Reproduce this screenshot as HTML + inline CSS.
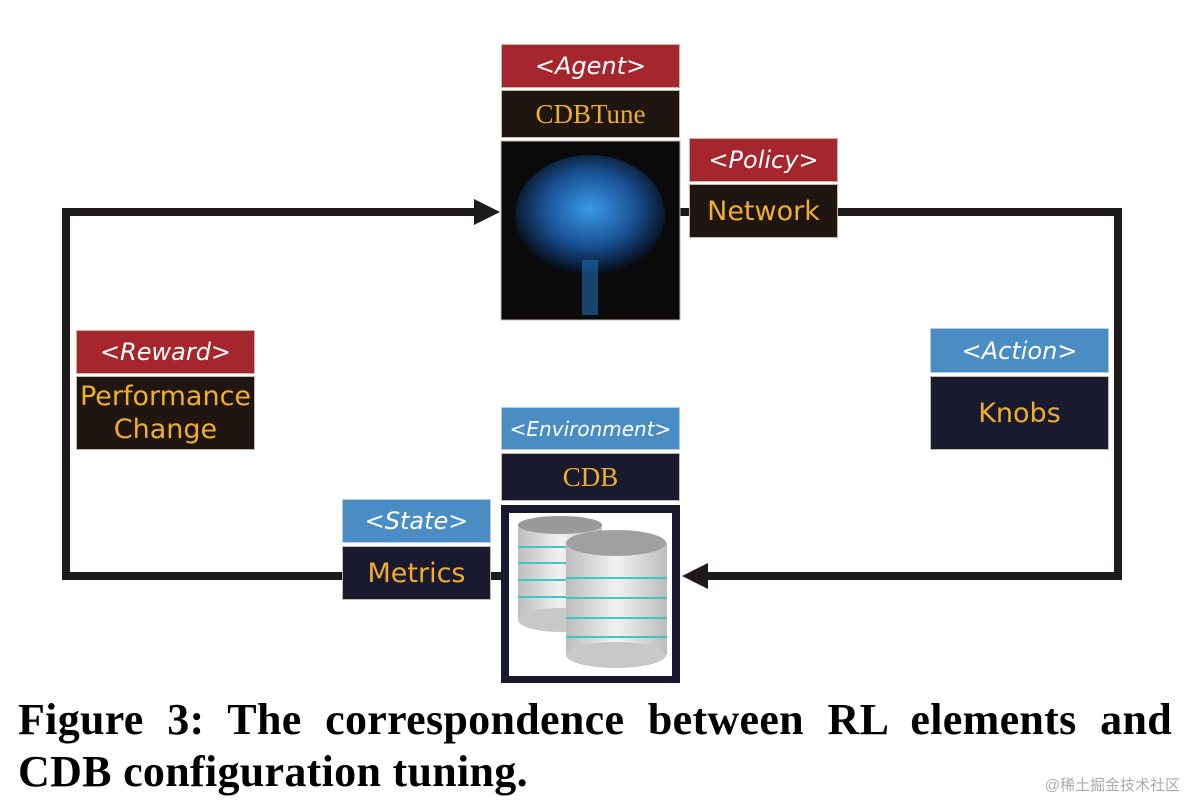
<!DOCTYPE html>
<html><head><meta charset="utf-8"><style>
body{margin:0;width:1188px;height:806px;background:#fff;position:relative;overflow:hidden;font-family:"DejaVu Sans","Liberation Sans",sans-serif}
.b{position:absolute;display:flex;align-items:center;justify-content:center;text-align:center;box-sizing:border-box;border:1px solid #c9b7a8}
.red{background:#a5262c;color:#fff;font-style:italic;font-size:24px}
.blue{background:#4a8cc4;color:#fff;font-style:italic;font-size:24px;border-color:#b8cde0}
.dk{background:#1f1611;color:#f0ad2e;font-size:27px}
.nv{background:#191a2e;color:#f0ad2e;font-size:27px}
.cap{position:absolute;left:18px;width:1154px;font-family:"Liberation Serif",serif;font-weight:bold;font-size:44px;letter-spacing:0.3px;text-align:justify;text-align-last:justify;white-space:nowrap}
</style></head><body>
<svg width="1188" height="806" style="position:absolute;left:0;top:0">
<g stroke="#1c1a1a" stroke-width="8" fill="none">
<polyline points="490,212 66,212 66,576 342,576"/>
<polyline points="838,212 1118,212 1118,576 705,576"/>
<line x1="491" y1="576" x2="502" y2="576"/>
<line x1="680" y1="212" x2="690" y2="212"/>
</g>
<polygon points="500,212 474,199 474,225" fill="#1c1a1a"/>
<polygon points="682,576 708,563 708,589" fill="#1c1a1a"/>
<defs><radialGradient id="g" cx="50%" cy="45%" r="55%"><stop offset="0" stop-color="#3a9ae8"/><stop offset=".55" stop-color="#1a5295"/><stop offset="1" stop-color="#050a14"/></radialGradient>
<linearGradient id="c" x1="0" x2="1"><stop offset="0" stop-color="#bdbdbd"/><stop offset=".5" stop-color="#f2f2f2"/><stop offset="1" stop-color="#bcbcbc"/></linearGradient></defs>
<rect x="501" y="141" width="179" height="179" fill="#0a0a0a" stroke="#c9b7a8"/>
<ellipse cx="590" cy="215" rx="75" ry="60" fill="url(#g)"/>
<rect x="582" y="260" width="16" height="55" fill="#1d6ab5" opacity=".6"/>
<rect x="501" y="505" width="179" height="178" fill="#191a2e"/>
<rect x="509" y="513" width="163" height="163" fill="#fff"/>
<g>
<rect x="518" y="525" width="84" height="95" fill="url(#c)"/><ellipse cx="560" cy="620" rx="42" ry="12" fill="#c8c8c8"/><ellipse cx="560" cy="525" rx="42" ry="9" fill="#9a9a9a"/>
<g stroke="#3fc8c0" stroke-width="2"><line x1="518" y1="547" x2="602" y2="547"/><line x1="518" y1="563" x2="602" y2="563"/><line x1="518" y1="580" x2="602" y2="580"/><line x1="518" y1="597" x2="602" y2="597"/></g>
<rect x="566" y="543" width="101" height="112" fill="url(#c)"/><ellipse cx="616" cy="655" rx="50" ry="13" fill="#c8c8c8"/><ellipse cx="616" cy="543" rx="50" ry="13" fill="#a0a0a0"/>
<g stroke="#3fc8c0" stroke-width="2"><line x1="566" y1="578" x2="667" y2="578"/><line x1="566" y1="598" x2="667" y2="598"/><line x1="566" y1="618" x2="667" y2="618"/><line x1="566" y1="637" x2="667" y2="637"/></g>
</g>
</svg>
<div class="b red" style="left:501px;top:44px;width:179px;height:44px">&lt;Agent&gt;</div>
<div class="b dk" style="left:501px;top:90px;width:179px;height:48px;font-family:'Liberation Serif',serif">CDBTune</div>
<div class="b red" style="left:689px;top:138px;width:149px;height:44px">&lt;Policy&gt;</div>
<div class="b dk" style="left:689px;top:184px;width:149px;height:54px">Network</div>
<div class="b red" style="left:76px;top:330px;width:179px;height:44px">&lt;Reward&gt;</div>
<div class="b dk" style="left:76px;top:376px;width:179px;height:74px;line-height:33px">Performance<br>Change</div>
<div class="b blue" style="left:930px;top:328px;width:179px;height:45px">&lt;Action&gt;</div>
<div class="b nv" style="left:930px;top:376px;width:179px;height:74px">Knobs</div>
<div class="b blue" style="left:501px;top:407px;width:179px;height:43px;font-size:20px">&lt;Environment&gt;</div>
<div class="b nv" style="left:501px;top:453px;width:179px;height:48px;font-family:'Liberation Serif',serif">CDB</div>
<div class="b blue" style="left:342px;top:499px;width:149px;height:44px">&lt;State&gt;</div>
<div class="b nv" style="left:342px;top:546px;width:149px;height:54px">Metrics</div>
<div class="cap" style="top:694px">Figure 3: The correspondence between RL elements and</div>
<div class="cap" style="top:746px;text-align-last:left">CDB configuration tuning.</div>
<div style="position:absolute;right:8px;top:774px;color:#aaa;font-size:15px;font-family:'Liberation Sans','Noto Sans CJK SC',sans-serif">@稀土掘金技术社区</div>
</body></html>
